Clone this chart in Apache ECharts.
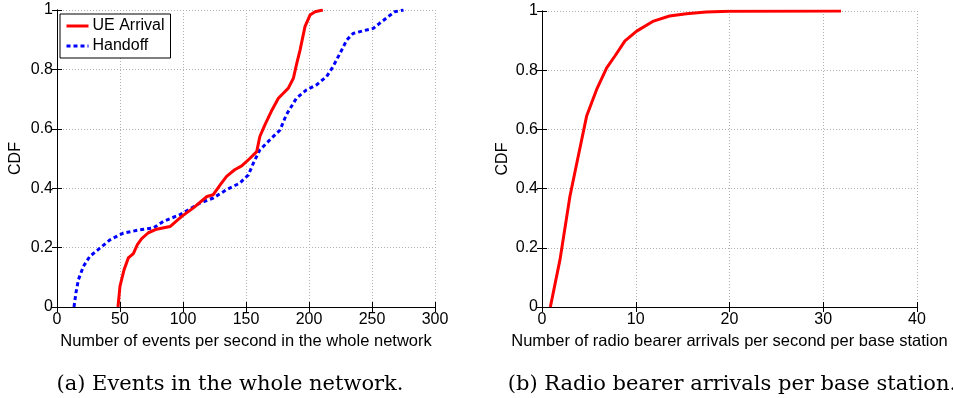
<!DOCTYPE html>
<html>
<head>
<meta charset="utf-8">
<script src="https://cdn.jsdelivr.net/npm/echarts@6/dist/echarts.min.js"></script>
<style>
  html, body { margin: 0; padding: 0; background: #fff; }
  #chart { width: 953px; height: 398px; }
</style>
</head>
<body>
<div id="chart"></div>
<script>
// (a) events per second in the whole network, CDF
const ueArrival = [
  [48.4, 0], [50, 0.07], [53.2, 0.125], [56.6, 0.165], [60.6, 0.18], [63.8, 0.21],
  [67.2, 0.23], [72.5, 0.25], [79, 0.262], [89.7, 0.271], [99, 0.305], [108, 0.333],
  [119, 0.372], [124, 0.378], [129.5, 0.411], [134.6, 0.44], [141, 0.462], [146.6, 0.475],
  [153, 0.5], [158.5, 0.523], [161, 0.574], [165, 0.613], [170, 0.658], [175.7, 0.703],
  [183.6, 0.737], [187.6, 0.77], [190, 0.815], [192.9, 0.865], [196.8, 0.944],
  [200.8, 0.983], [204.8, 0.994], [211, 1]
];
const handoff = [
  [13.5, 0], [15, 0.047], [17, 0.092], [21, 0.137], [26, 0.17], [34, 0.198], [42, 0.226],
  [52.6, 0.249], [66, 0.26], [76.5, 0.266], [84.4, 0.288], [97.6, 0.311], [113.5, 0.35],
  [124, 0.367], [134.6, 0.395], [145, 0.417], [151.9, 0.445], [155.8, 0.484], [161, 0.529],
  [169, 0.563], [177, 0.596], [182, 0.647], [190, 0.703], [198, 0.731], [206, 0.748],
  [214, 0.776], [219, 0.809], [224.6, 0.854], [230, 0.899], [235, 0.921], [243, 0.93],
  [251, 0.938], [256, 0.955], [263, 0.978], [268, 0.994], [275, 1]
];
// (b) radio bearer arrivals per second per base station
const bearerArrival = [
  [0.89, 0], [1.92, 0.16], [2.98, 0.374], [3.87, 0.51], [4.76, 0.645], [5.83, 0.735],
  [6.9, 0.808], [7.78, 0.848], [8.85, 0.899], [10.1, 0.932], [11.9, 0.966], [13.6, 0.983],
  [15.4, 0.991], [17.5, 0.997], [20, 0.999], [31.9, 1]
];

const font = 'Liberation Sans, Arial, Helvetica, sans-serif';
const serif = 'DejaVu Serif, Liberation Serif, serif';

function xAxes(gridIndex, max, interval, name) {
  return [
    {
      type: 'value', gridIndex, min: 0, max, interval, position: 'bottom',
      name, nameLocation: 'middle', nameGap: 19,
      nameTextStyle: { color: '#000', fontSize: 16.5, fontFamily: font },
      axisLine: { lineStyle: { color: '#000', width: 1 } },
      axisTick: { inside: true, length: 5, lineStyle: { color: '#000' } },
      axisLabel: { color: '#000', fontSize: 16, fontFamily: font, margin: 5 },
      splitLine: { show: true, lineStyle: { color: '#b0b0b0', type: [1, 2], width: 1 } }
    },
    {
      type: 'value', gridIndex, min: 0, max, interval, position: 'top',
      axisLine: { lineStyle: { color: '#000', width: 1 } },
      axisTick: { inside: true, length: 5, lineStyle: { color: '#000' } },
      axisLabel: { show: false }, splitLine: { show: false }
    }
  ];
}

function yAxes(gridIndex, nameGap) {
  return [
    {
      type: 'value', gridIndex, min: 0, max: 1, interval: 0.2, position: 'left',
      name: 'CDF', nameLocation: 'middle', nameGap,
      nameTextStyle: { color: '#000', fontSize: 16, fontFamily: font },
      axisLine: { show: true, lineStyle: { color: '#000', width: 1 } },
      axisTick: { show: true, inside: true, length: 5, lineStyle: { color: '#000' } },
      axisLabel: { color: '#000', fontSize: 16, fontFamily: font, margin: 4 },
      splitLine: { show: true, lineStyle: { color: '#b0b0b0', type: [1, 2], width: 1 } }
    },
    {
      type: 'value', gridIndex, min: 0, max: 1, interval: 0.2, position: 'right',
      axisLine: { show: true, lineStyle: { color: '#000', width: 1 } },
      axisTick: { show: true, inside: true, length: 5, lineStyle: { color: '#000' } },
      axisLabel: { show: false }, splitLine: { show: false }
    }
  ];
}

const chart = echarts.init(document.getElementById('chart'), null, { renderer: 'canvas' });
chart.setOption({
  animation: false,
  backgroundColor: '#fff',
  title: [
    { text: '(a) Events in the whole network.', left: 225, top: 369, textAlign: 'center',
      textStyle: { fontFamily: serif, fontSize: 21, fontWeight: 'normal', color: '#000' } },
    { text: '(b) Radio bearer arrivals per base station.', left: 727, top: 369, textAlign: 'center',
      textStyle: { fontFamily: serif, fontSize: 21, fontWeight: 'normal', color: '#000' } }
  ],
  legend: {
    left: 60, top: 14, orient: 'vertical',
    data: ['UE Arrival', 'Handoff'],
    itemWidth: 22, itemHeight: 10, itemGap: 4,
    padding: [4, 6, 4, 5],
    borderColor: '#000', borderWidth: 1, backgroundColor: '#fff',
    itemStyle: { opacity: 0 },
    lineStyle: { width: 3 },
    textStyle: { color: '#000', fontSize: 16, fontFamily: font, padding: [0, 0, 0, -1] }
  },
  grid: [
    { left: 57, right: 518, top: 10, bottom: 91 },
    { left: 542, right: 36, top: 11, bottom: 91 }
  ],
  xAxis: [...xAxes(0, 300, 50, 'Number of events per second in the whole network'),
          ...xAxes(1, 40, 10, 'Number of radio bearer arrivals per second per base station')],
  yAxis: [...yAxes(0, 33), ...yAxes(1, 31)],
  series: [
    { name: 'UE Arrival', type: 'line', xAxisIndex: 0, yAxisIndex: 0, data: ueArrival,
      showSymbol: false, symbol: 'none', lineStyle: { color: '#ff0000', width: 3 },
      itemStyle: { color: '#ff0000' }, z: 3 },
    { name: 'Handoff', type: 'line', xAxisIndex: 0, yAxisIndex: 0, data: handoff,
      showSymbol: false, symbol: 'none', lineStyle: { color: '#0000ff', width: 3, type: [4, 3] },
      itemStyle: { color: '#0000ff' }, z: 2 },
    { name: 'Bearer', type: 'line', xAxisIndex: 2, yAxisIndex: 2, data: bearerArrival,
      showSymbol: false, symbol: 'none', lineStyle: { color: '#ff0000', width: 3 },
      itemStyle: { color: '#ff0000' } }
  ]
});
</script>
</body>
</html>
